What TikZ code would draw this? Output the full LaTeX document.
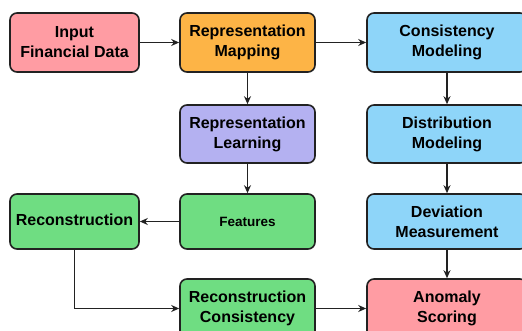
\documentclass[tikz,border=0pt]{standalone}
\usepackage{fontspec}
\setmainfont{Liberation Sans}
\usetikzlibrary{arrows.meta}
\definecolor{cpink}{HTML}{FF9CA3}
\definecolor{corange}{HTML}{FDB446}
\definecolor{cblue}{HTML}{8ED5F9}
\definecolor{cpurple}{HTML}{B4B1F1}
\definecolor{cgreen}{HTML}{6FDD82}
\definecolor{cline}{HTML}{222222}
\tikzset{
  box/.style={draw=cline, line width=1.6pt, rounded corners=7pt, align=center,
    font=\fontsize{16}{20}\selectfont\bfseries, text=black, inner sep=0pt},
  arr/.style={draw=cline, line width=1.3pt, -{Stealth[length=8pt,width=7pt]}},
}
\begin{document}
\begin{tikzpicture}[x=1pt,y=-1pt]
\useasboundingbox (0,0) rectangle (522,331);
\clip (0,0) rectangle (522,331);
\fill[white] (0,0) rectangle (522,331);
% row 1
\node[box, fill=cpink, minimum width=129pt, minimum height=59pt] (in) at (74.5,42.5) {Input\\Financial Data};
\node[box, fill=corange, minimum width=135pt, minimum height=59pt] (rm) at (247.5,42.5) {Representation\\Mapping};
\node[box, fill=cblue, minimum width=160pt, minimum height=59pt] (cm) at (447,42.5) {Consistency\\Modeling};
% row 2
\node[box, fill=cpurple, minimum width=135pt, minimum height=58pt] (rl) at (247.5,134) {Representation\\Learning};
\node[box, fill=cblue, minimum width=160pt, minimum height=58pt] (dm) at (447,134) {Distribution\\Modeling};
% row 3
\node[box, fill=cgreen, minimum width=129pt, minimum height=55pt] (rec) at (74.5,221.5) {\raisebox{3pt}{Reconstruction}};
\node[box, fill=cgreen, minimum width=135pt, minimum height=55pt, font=\fontsize{13.5}{16}\selectfont\bfseries] (ft) at (247.5,221.5) {Features};
\node[box, fill=cblue, minimum width=160pt, minimum height=55pt] (dv) at (447,221.5) {Deviation\\Measurement};
% row 4
\node[box, fill=cgreen, minimum width=135pt, minimum height=59pt] (rc) at (247.5,308.5) {Reconstruction\\Consistency};
\node[box, fill=cpink, minimum width=160pt, minimum height=59pt] (as) at (447,308.5) {Anomaly\\Scoring};
% arrows
\draw[arr] (in) -- (rm);
\draw[arr] (rm) -- (cm);
\draw[arr] (rm) -- (rl);
\draw[arr] (cm) -- (dm);
\draw[arr] (rl) -- (ft);
\draw[arr] (dm) -- (dv);
\draw[arr] (ft) -- (rec);
\draw[arr] (rec.south) |- (rc.west);
\draw[arr] (rc) -- (as);
\draw[arr] (dv) -- (as);
\end{tikzpicture}
\end{document}
